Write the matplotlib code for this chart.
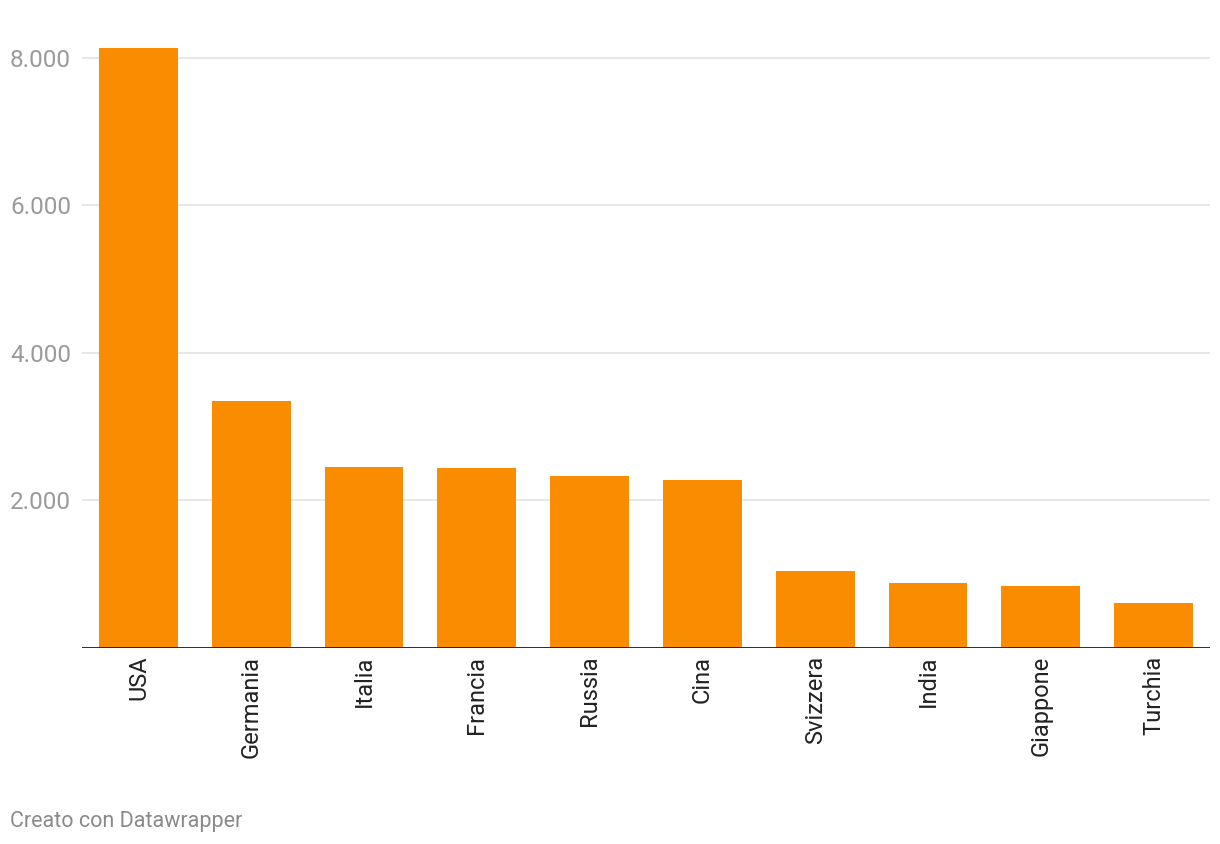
import matplotlib
matplotlib.use("Agg")
import matplotlib.pyplot as plt
from matplotlib.ticker import FuncFormatter

countries = ["USA", "Germania", "Italia", "Francia", "Russia", "Cina",
             "Svizzera", "India", "Giappone", "Turchia"]
values = [8136, 3341, 2445, 2431, 2323, 2268, 1032, 869, 829, 598]
yticks = [2000, 4000, 6000, 8000]

plt.rcParams['font.family'] = ['Roboto', 'DejaVu Sans']

W, H = 1220, 844
fig = plt.figure(figsize=(W / 100, H / 100), dpi=100)
left, right = 82, 1210
top, base = 40, 647.5
ax = fig.add_axes([left / W, 1 - base / H, (right - left) / W, (base - top) / H])

x = list(range(len(countries)))
ax.bar(x, values, width=0.70, color="#f98c00", zorder=2)
ax.set_xlim(-0.5, len(countries) - 0.5)
ax.set_ylim(0, 8000 * (base - top) / (base - 58))

for t in yticks:
    ax.axhline(t, color="#e3e3e3", lw=1.2, zorder=1)
ax.axhline(0, color="#1a1a1a", lw=2.0, zorder=3)

ax.set_yticks(yticks)
ax.yaxis.set_major_formatter(FuncFormatter(lambda v, p: f"{int(v):,}".replace(",", ".")))
ax.tick_params(axis="y", length=0, labelsize=17.5, labelcolor="#9a9a9a", pad=0)
ax.set_xticks(x)
ax.set_xticklabels(countries, rotation=90, fontsize=17, color="#222222")
ax.tick_params(axis="x", length=0, pad=6)
for lbl in ax.get_yticklabels():
    lbl.set_horizontalalignment("left")
    lbl.set_x(-72 / (right - left))

for s in ax.spines.values():
    s.set_visible(False)

fig.text(10 / W, 1 - 821 / H, "Creato con Datawrapper", fontsize=15.5,
         color="#8a8a8a", va="center", ha="left")

fig.savefig("out.png", dpi=100, facecolor="white")
